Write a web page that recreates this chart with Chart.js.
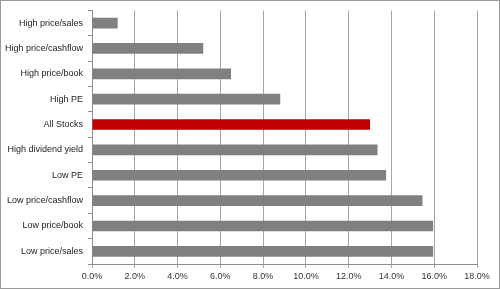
<!DOCTYPE html>
<html>
<head>
<meta charset="utf-8">
<script src="https://cdn.jsdelivr.net/npm/chart.js@4"></script>
<style>
  html, body { margin: 0; padding: 0; background: #fff; }
  #wrap { width: 500px; height: 289px; position: relative; }
</style>
</head>
<body>
<div id="wrap"><canvas id="returnsChart"></canvas></div>
<script>
// Strategy names, top to bottom as they appear in the chart
const strategies = [
  'High price/sales',
  'High price/cashflow',
  'High price/book',
  'High PE',
  'All Stocks',
  'High dividend yield',
  'Low PE',
  'Low price/cashflow',
  'Low price/book',
  'Low price/sales'
];

// Annual return in percent
const returns = [1.2, 5.2, 6.5, 8.8, 13.0, 13.35, 13.75, 15.45, 15.95, 15.95];

// The benchmark bar is drawn in red, the rest in grey
const benchmark = 'All Stocks';

// Axis range for the percentage ticks
const axisMin = 0;
const axisMax = 18;
const axisStep = 2;

const barColors = strategies.map(s => s === benchmark ? '#c00000' : '#808080');

// draws the thin frame round the whole chart, like the spreadsheet export
const frame = {
  id: 'frame',
  afterDraw(chart) {
    const ctx = chart.ctx;
    ctx.save();
    ctx.strokeStyle = '#9a9a9a';
    ctx.lineWidth = 1;
    ctx.strokeRect(0.5, 0.5, chart.width - 1, chart.height - 1);
    ctx.restore();
  }
};

const ctx = document.getElementById('returnsChart').getContext('2d');

new Chart(ctx, {
  type: 'bar',
  data: {
    labels: strategies,
    datasets: [{
      data: returns,
      backgroundColor: barColors,
      borderWidth: 0,
      categoryPercentage: 1,
      barPercentage: 0.42
    }]
  },
  options: {
    indexAxis: 'y',
    responsive: true,
    maintainAspectRatio: false,
    animation: false,
    layout: { padding: { top: 10, right: 23, left: 0, bottom: 0 } },
    plugins: {
      legend: { display: false },
      tooltip: { enabled: false }
    },
    scales: {
      x: {
        min: axisMin,
        max: axisMax,
        ticks: {
          stepSize: axisStep,
          callback: v => v.toFixed(1) + '%',
          color: '#333',
          font: { family: 'Liberation Sans', size: 9 },
          padding: 3,
          maxRotation: 0
        },
        grid: { color: '#a6a6a6', tickLength: 4 },
        border: { color: '#8c8c8c' },
        afterFit(scale) { scale.height = 25; }
      },
      y: {
        ticks: {
          color: '#222',
          font: { family: 'Liberation Sans', size: 9 },
          padding: 5
        },
        grid: { drawOnChartArea: false, color: '#8c8c8c', tickLength: 4, offset: true },
        border: { color: '#8c8c8c' },
        afterFit(scale) { scale.width = 92; }
      }
    }
  },
  plugins: [frame]
});
</script>
</body>
</html>
